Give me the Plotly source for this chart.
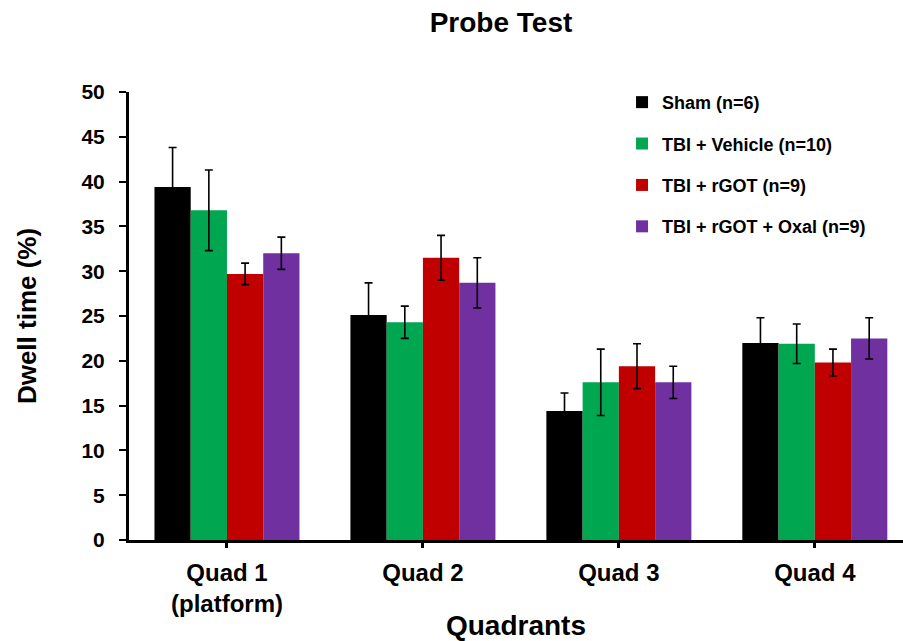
import plotly.graph_objects as go

categories = ["Quad 1<br>(platform)", "Quad 2", "Quad 3", "Quad 4"]
series_names = ["Sham (n=6)", "TBI + Vehicle (n=10)", "TBI + rGOT (n=9)", "TBI + rGOT + Oxal (n=9)"]
sham = [39.4, 25.1, 14.4, 22.0]
sham_err = [4.4, 3.6, 2.0, 2.8]
vehicle = [36.8, 24.3, 17.6, 21.9]
vehicle_err = [4.5, 1.8, 3.7, 2.2]
rgot = [29.7, 31.5, 19.4, 19.8]
rgot_err = [1.2, 2.5, 2.5, 1.5]
oxal = [32.0, 28.7, 17.6, 22.5]
oxal_err = [1.8, 2.8, 1.8, 2.3]
y_ticks = [0, 5, 10, 15, 20, 25, 30, 35, 40, 45, 50]
colors = ["#000000", "#00a650", "#c00000", "#7030a0"]

values = [sham, vehicle, rgot, oxal]
errors = [sham_err, vehicle_err, rgot_err, oxal_err]

FONT = "Liberation Sans, Arial, sans-serif"

fig = go.Figure()
for i, (name, v, e, c) in enumerate(zip(series_names, values, errors, colors)):
    fig.add_trace(go.Bar(
        x=categories, y=v, name=f"<b>{name}</b>",
        marker=dict(color=c, line=dict(width=0)),
        error_y=dict(type="data", array=e, visible=True, color="#000000",
                     thickness=1.6, width=4),
        legendgroup=f"g{i}",
    ))

fig.update_layout(
    width=903, height=641,
    barmode="group", bargap=0.26, bargroupgap=0,
    plot_bgcolor="white", paper_bgcolor="white",
    margin=dict(l=129, r=0, t=92, b=101),
    font=dict(family=FONT, color="#000000"),
    title=dict(text="<b>Probe Test</b>", x=501 / 903, xanchor="center", xref="container",
               y=1 - 22 / 641, yanchor="middle", font=dict(size=28, family=FONT)),
    showlegend=True,
    legend=dict(x=0.637, y=1.018, xanchor="left", yanchor="top",
                font=dict(size=18, family=FONT), bgcolor="rgba(0,0,0,0)",
                tracegroupgap=15, itemwidth=30),
    xaxis=dict(
        range=[-0.5, 3.45], showline=True, linecolor="#000000", linewidth=3,
        ticks="outside", ticklen=5, tickwidth=3, tickcolor="#000000",
        tickfont=dict(size=24, family=FONT), ticklabelstandoff=4,
        tickvals=categories,
        ticktext=[f"<b>{c}</b>".replace("<br>", "</b><br><b>") for c in categories],
        title=dict(text="<b>Quadrants</b>", font=dict(size=28, family=FONT), standoff=4),
        showgrid=False, zeroline=False, automargin=False,
    ),
    yaxis=dict(
        range=[0, 50], showline=True, linecolor="#000000", linewidth=3,
        ticks="outside", ticklen=7, tickwidth=2, tickcolor="#000000",
        tickfont=dict(size=21, family=FONT), ticklabelstandoff=10,
        tickvals=y_ticks, ticktext=[f"<b>{t}</b>" for t in y_ticks],
        title=dict(text="<b>Dwell time (%)</b>", font=dict(size=26, family=FONT), standoff=38),
        showgrid=False, zeroline=False, automargin=False,
    ),
)

fig.write_html("out.html")
